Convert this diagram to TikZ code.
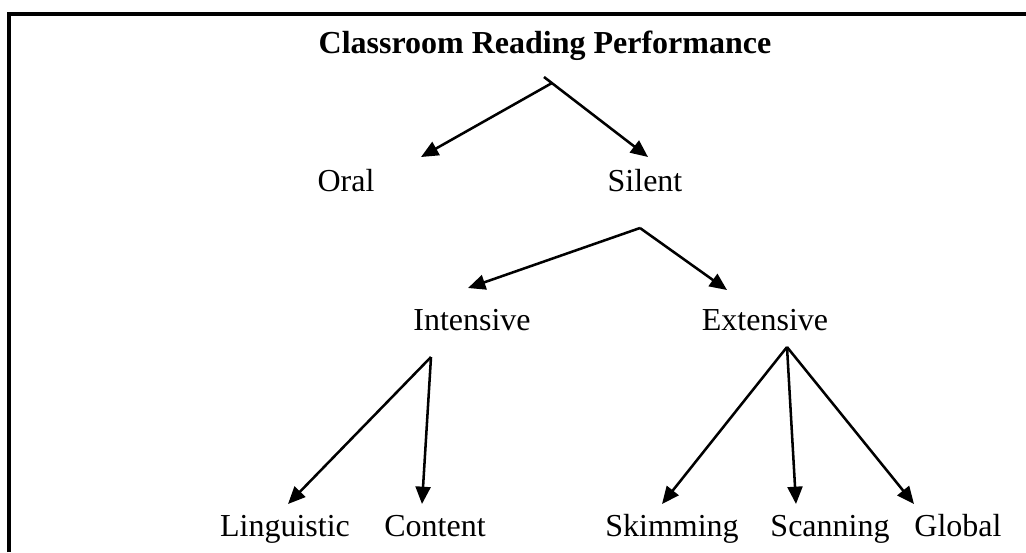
\documentclass[tikz,border=0pt]{standalone}
\usepackage{fontspec}
\setmainfont{Liberation Serif}
\usetikzlibrary{arrows.meta}
\begin{document}
\begin{tikzpicture}[x=0.375pt, y=-0.375pt, line width=0.95pt, >={Triangle[length=6.5pt,width=5.6pt]}, word node/.style={anchor=base,inner sep=0pt,font=\fontsize{12}{14}\selectfont}]%
\useasboundingbox (0,0) rectangle (1026,552);
\draw[line width=1.3pt] (9,552) -- (9,14) -- (1026,14);%frame
\begin{scope}[every node/.style={word node}]
\node[font=\fontsize{12}{14}\selectfont\bfseries] (title) at (545,53) {Classroom Reading Performance};%root
\node (oral) at (346,191) {Oral};%1
\node (silent) at (645,191) {Silent};%2
\node (intensive) at (472,330) {Intensive};%3
\node (extensive) at (765,330) {Extensive};%4
\node (linguistic) at (285,536) {Linguistic};%5
\node (content) at (435,536) {Content};%6
\node (skimming) at (672,536) {Skimming};%7
\node (scanning) at (830,536) {Scanning};%8
\node (global) at (958,536) {Global};%9
\end{scope}
% joins and tips
\coordinate (titlejoin) at (552,83);
\coordinate (titletick) at (544,77);
\coordinate (oraltip) at (421,157);
\coordinate (silenttip) at (648,157);
\coordinate (silentjoin) at (640,228);
\coordinate (intensivetip) at (468,288);
\coordinate (extensivetip) at (727,290);
\coordinate (intensivejoin) at (431,357);
\coordinate (linguistictip) at (288,504);
\coordinate (contenttip) at (422,504);
\coordinate (extensivejoin) at (787,347);
\coordinate (skimmingtip) at (662,504);
\coordinate (scanningtip) at (796,504);
\coordinate (globaltip) at (914,504);
\begin{scope}[every edge/.style={draw=black,->}]
\draw (titlejoin) edge (oraltip);
\draw (titletick) edge (silenttip);
\draw (silentjoin) edge (intensivetip);
\draw (silentjoin) edge (extensivetip);
\draw (intensivejoin) edge (linguistictip);
\draw (intensivejoin) edge (contenttip);
\draw (extensivejoin) edge (skimmingtip);
\draw (extensivejoin) edge (scanningtip);
\draw (extensivejoin) edge (globaltip);
\end{scope}
\end{tikzpicture}
\end{document}
